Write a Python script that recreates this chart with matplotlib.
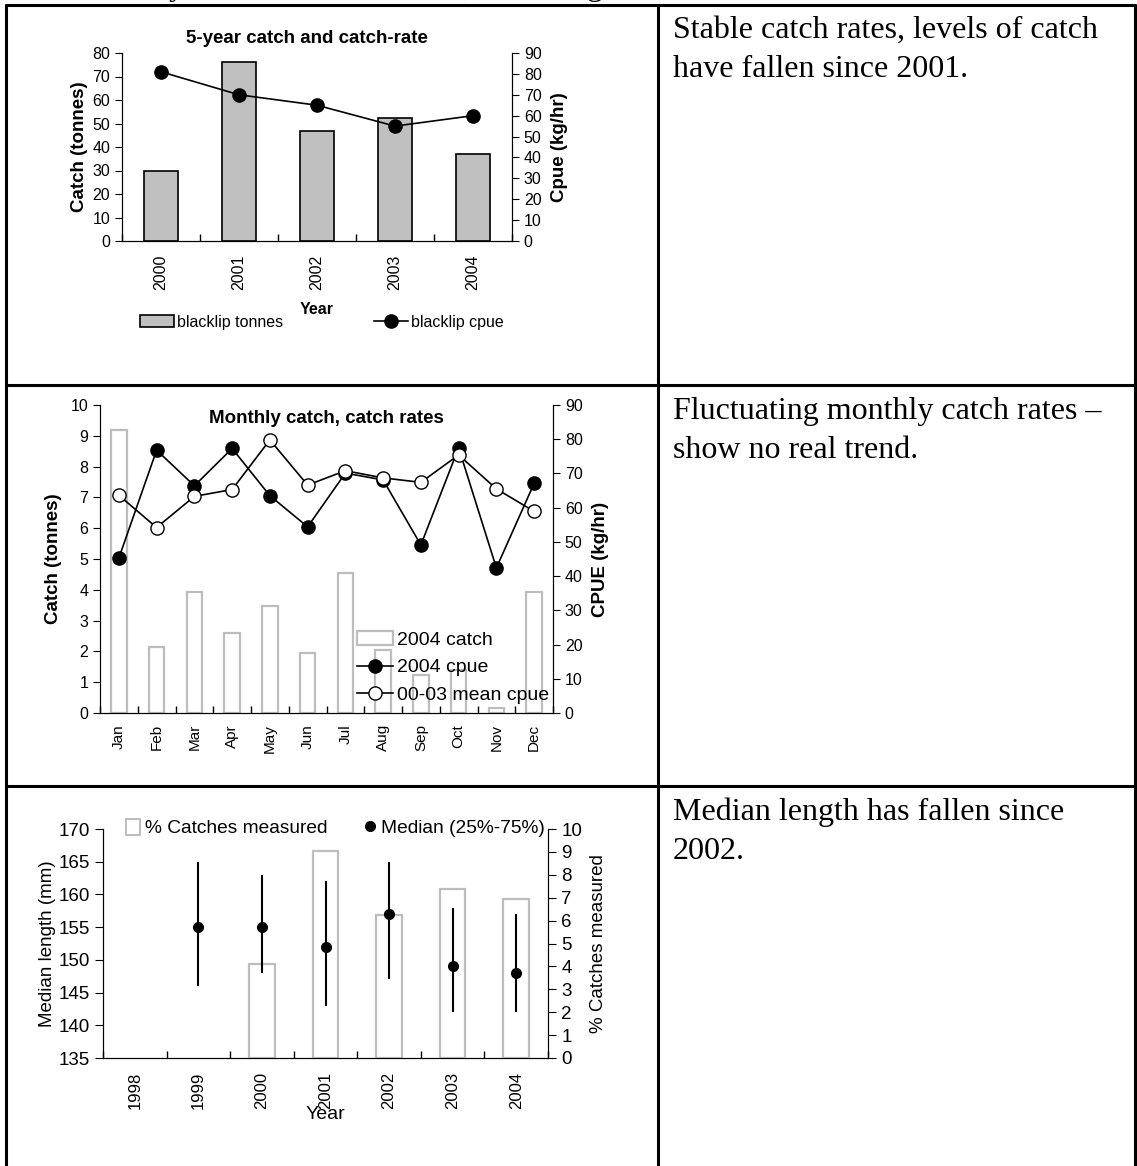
import numpy as np
import matplotlib
matplotlib.use("Agg")
import matplotlib.pyplot as plt
from matplotlib.lines import Line2D
from matplotlib.patches import Patch

plt.rcParams['font.family'] = ['Liberation Sans', 'DejaVu Sans']

# ---------------- data ----------------
years1 = ['2000', '2001', '2002', '2003', '2004']
blacklip_tonnes = [30, 76, 47, 52.5, 37]
blacklip_cpue = [81, 70, 65, 55, 60]

months = ['Jan', 'Feb', 'Mar', 'Apr', 'May', 'Jun', 'Jul', 'Aug', 'Sep', 'Oct', 'Nov', 'Dec']
catch_2004 = [9.2, 2.14, 3.93, 2.61, 3.46, 1.94, 4.53, 2.06, 1.23, 1.4, 0.16, 3.94]
cpue_2004 = [45.3, 76.8, 66.4, 77.3, 63.5, 54.4, 70.1, 68.1, 49.1, 77.5, 42.4, 67.1]
cpue_mean_0003 = [63.6, 54.2, 63.3, 65.3, 79.8, 66.6, 70.8, 68.7, 67.4, 75.4, 65.5, 58.9]

years3 = ['1998', '1999', '2000', '2001', '2002', '2003', '2004']
median_len = [None, 155, 155, 152, 157, 149, 148]
q25_len = [None, 146, 148, 143, 147, 142, 142]
q75_len = [None, 165, 163, 162, 165, 158, 157]
pct_measured = [None, None, 4.1, 9.05, 6.23, 7.36, 6.96]

notes = [["Stable catch rates, levels of catch", "have fallen since 2001."],
         ["Fluctuating monthly catch rates \u2013", "show no real trend."],
         ["Median length has fallen since", "2002."]]

# ---------------- figure ----------------
W, H = 1137, 1166
fig = plt.figure(figsize=(W / 100, H / 100), dpi=100)
fig.patch.set_facecolor('white')


def fx(x):
    return x / W


def fy(y):
    return 1 - y / H


def rect(l, t, r, b):
    return [l / W, 1 - b / H, (r - l) / W, (b - t) / H]


def hline(y, x0, x1, lw=2.2):
    fig.add_artist(Line2D([fx(x0), fx(x1)], [fy(y), fy(y)], transform=fig.transFigure,
                          color='black', lw=lw, solid_capstyle='butt'))


def vline(x, y0, y1, lw=2.2):
    fig.add_artist(Line2D([fx(x), fx(x)], [fy(y0), fy(y1)], transform=fig.transFigure,
                          color='black', lw=lw, solid_capstyle='butt'))


# table grid
hline(5, 5, 1136)
hline(385, 5, 1136)
hline(786, 5, 1136)
vline(6, 4, 1166)
vline(658, 4, 1166)
vline(1135, 4, 1166)

# clipped text from the line above the table (only descenders visible)
serif = ['Liberation Serif', 'DejaVu Serif']
for ch, x in [('y', 169), (',', 463), ('g', 587)]:
    fig.text(fx(x), fy(-5), ch, family=serif, fontsize=23, va='baseline', ha='left')

# notes in right column
row_base = [38, 419, 820]
for (l1, l2), yb in zip(notes, row_base):
    fig.text(fx(673), fy(yb), l1, family=serif, fontsize=23, va='baseline', ha='left')
    fig.text(fx(673), fy(yb + 39), l2, family=serif, fontsize=23, va='baseline', ha='left')


def cat_xaxis(ax, labels, fs, pad):
    n = len(labels)
    x = np.arange(n)
    ax.set_xlim(-0.5, n - 0.5)
    ax.set_xticks(np.arange(-0.5, n), minor=False)
    ax.set_xticklabels([])
    ax.set_xticks(x, minor=True)
    ax.set_xticklabels(labels, minor=True, rotation=90, fontsize=fs)
    ax.tick_params(axis='x', which='major', direction='in', length=5, width=1)
    ax.tick_params(axis='x', which='minor', length=0, pad=pad)
    return x


# ================= chart 1 =================
ax1 = fig.add_axes(rect(122, 53, 512, 241))
x1 = cat_xaxis(ax1, years1, 11.5, 10)
ax1.bar(x1, blacklip_tonnes, width=0.43, color='#C0C0C0', edgecolor='black', lw=1.2, zorder=2)
ax1.set_ylim(0, 80)
ax1.set_yticks(np.arange(0, 81, 10))
ax1.tick_params(axis='y', direction='out', length=5, labelsize=11.5)
ax1.spines['top'].set_visible(False)
ax1.set_ylabel('Catch (tonnes)', fontsize=13.5, fontweight='bold', labelpad=3)
ax1.set_xlabel('Year', fontsize=11.5, fontweight='bold', labelpad=8)
ax1.set_title('5-year catch and catch-rate', fontsize=13.5, fontweight='bold', pad=7, x=0.475)
ax1b = ax1.twinx()
ax1b.plot(x1, blacklip_cpue, color='black', lw=1.2, marker='o', ms=9.5)
ax1b.set_ylim(0, 90)
ax1b.set_yticks(np.arange(0, 91, 10))
ax1b.tick_params(axis='y', direction='out', length=5, labelsize=11.5)
ax1b.spines['top'].set_visible(False)
ax1b.set_ylabel('Cpue (kg/hr)', fontsize=13.5, fontweight='bold', labelpad=7)

fig.legend(handles=[Patch(facecolor='#C0C0C0', edgecolor='black', lw=1.2)],
           labels=['blacklip tonnes'], loc='center left', bbox_to_anchor=(fx(132), fy(322)),
           frameon=False, fontsize=11.5, handlelength=2.1, handletextpad=0.2, borderpad=0)
fig.legend(handles=[Line2D([], [], color='black', lw=1.2, marker='o', ms=9.5)],
           labels=['blacklip cpue'], loc='center left', bbox_to_anchor=(fx(366), fy(322)),
           frameon=False, fontsize=11.5, handlelength=2.1, handletextpad=0.2, borderpad=0)

# ================= chart 2 =================
ax2 = fig.add_axes(rect(100, 405, 553, 713))
x2 = cat_xaxis(ax2, months, 11, 8)
ax2.bar(x2, catch_2004, width=0.41, color='white', edgecolor='#BDBDBD', lw=1.6, zorder=2)
ax2.set_ylim(0, 10)
ax2.set_yticks(np.arange(0, 11, 1))
ax2.tick_params(axis='y', direction='out', length=5, labelsize=11.5)
ax2.spines['top'].set_visible(False)
ax2.set_ylabel('Catch (tonnes)', fontsize=13.5, fontweight='bold', labelpad=6)
ax2b = ax2.twinx()
l1, = ax2b.plot(x2, cpue_2004, color='black', lw=1.2, marker='o', ms=9.5, mfc='black', zorder=3)
l2, = ax2b.plot(x2, cpue_mean_0003, color='black', lw=1.2, marker='o', ms=9.5, mfc='white', zorder=4)
ax2b.set_ylim(0, 90)
ax2b.set_yticks(np.arange(0, 91, 10))
ax2b.tick_params(axis='y', direction='out', length=5, labelsize=11.5)
ax2b.spines['top'].set_visible(False)
ax2b.set_ylabel('CPUE (kg/hr)', fontsize=13.5, fontweight='bold', labelpad=7)
ax2b.text(0.5, 0.985, 'Monthly catch, catch rates', transform=ax2b.transAxes, ha='center',
          va='top', fontsize=13.5, fontweight='bold')
ax2b.legend(handles=[Patch(facecolor='white', edgecolor='#BDBDBD', lw=1.6), l1, l2],
            labels=['2004 catch', '2004 cpue', '00-03 mean cpue'],
            loc='upper left', bbox_to_anchor=((357 - 100) / 453, 1 - (631 - 405) / 308),
            frameon=False, fontsize=14, handlelength=1.85, handletextpad=0.2,
            labelspacing=0.52, borderpad=0, borderaxespad=0)

# ================= chart 3 =================
ax3 = fig.add_axes(rect(103, 829, 548, 1058))
x3 = cat_xaxis(ax3, years3, 12, 10)
ax3.set_ylim(135, 170)
ax3.set_yticks(np.arange(135, 171, 5))
ax3.tick_params(axis='y', direction='out', length=6, labelsize=13.5)
ax3.spines['top'].set_visible(False)
ax3.set_ylabel('Median length (mm)', fontsize=13.5, labelpad=2)
ax3.set_xlabel('Year', fontsize=14, labelpad=-2)
ax3b = ax3.twinx()
pct = np.array(pct_measured, dtype=float)
has_pct = ~np.isnan(pct)
ax3b.bar(x3[has_pct], pct[has_pct], width=0.4, color='white', edgecolor='#BDBDBD', lw=1.6, zorder=1)
ax3b.set_ylim(0, 10)
ax3b.set_yticks(np.arange(0, 11, 1))
ax3b.tick_params(axis='y', direction='out', length=6, labelsize=13.5)
ax3b.spines['top'].set_visible(False)
ax3b.set_ylabel('% Catches measured', fontsize=13.5, labelpad=6)
ax3c = ax3.twinx()
ax3c.set_ylim(135, 170)
ax3c.axis('off')
med = np.array(median_len, dtype=float)
q25 = np.array(q25_len, dtype=float)
q75 = np.array(q75_len, dtype=float)
ok = ~np.isnan(med)
ax3c.errorbar(x3[ok], med[ok], yerr=[med[ok] - q25[ok], q75[ok] - med[ok]], fmt='o',
              color='black', ms=7, elinewidth=1.5, capsize=0, zorder=5)

fig.legend(handles=[Patch(facecolor='white', edgecolor='#BDBDBD', lw=1.4)],
           labels=['% Catches measured'], loc='center left', bbox_to_anchor=(fx(116), fy(828)),
           frameon=False, fontsize=13.8, handlelength=0.75, handleheight=0.9,
           handletextpad=0.25, borderpad=0)
fig.legend(handles=[Line2D([], [], color='black', lw=0, marker='o', ms=7)],
           labels=['Median (25%-75%)'], loc='center left', bbox_to_anchor=(fx(353), fy(828)),
           frameon=False, fontsize=13.8, handlelength=0.8,
           handletextpad=0.15, borderpad=0)

fig.savefig('out.png', dpi=100, facecolor='white')
